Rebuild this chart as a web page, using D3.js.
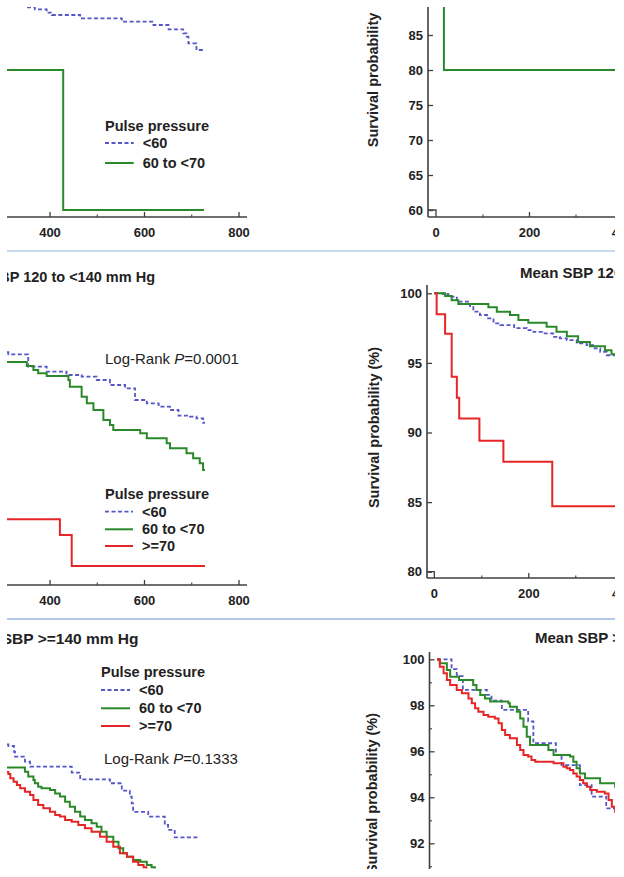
<!DOCTYPE html>
<html><head><meta charset="utf-8">
<script src="https://cdn.jsdelivr.net/npm/d3@7"></script>
<style>body{margin:0;background:#fff}</style>
</head><body><svg id="c" width="624" height="877"></svg>
<script>
// ---------------- DATA ----------------
const groups = ["<60", "60 to <70", ">=70"];
const legendTitle = "Pulse pressure";
const titles = {
  middle: "Mean SBP 120 to <140 mm Hg",
  bottom: "Mean SBP >=140 mm Hg"
};
const pValues = { middle: "0.0001", bottom: "0.1333" };
const yLabelTop = "Survival probability";
const yLabel = "Survival probability (%)";

// left column x ticks (days)
const leftXTicks = [400, 600, 800];
const leftXMinor = [300, 500, 700];
// right column
const rightXTicks = [0, 200, 400];
const rightXMinor = [100, 300];
const trYTicks = [60, 65, 70, 75, 80, 85];
const mrYTicks = [80, 85, 90, 95, 100];
const brYTicks = [92, 94, 96, 98, 100];
const brYMinor = [91, 93, 95, 97, 99];

// top-left panel (time, survival %)
const tlLt60 = [[330,89.3],[348,88.95],[369,88.67],[394,88.19],[405,87.86],[465,87.38],[553,86.9],[620,86.43],[652,85.81],[683,85.24],[690,84.76],[694,83.81],[711,82.86],[727,82.86]];
const tl60to70 = [[280,80],[429,60],[727,60]];
// top-right panel
const tr60to70 = [[0,100],[17,80],[385,80]];

// middle-left panel
const mlLt60 = [[296,96.3],[313,96.15],[355,95.26],[394,94.9],[436,94.66],[468,94.54],[500,94.3],[528,93.94],[560,93.7],[581,92.86],[606,92.62],[631,92.38],[655,92.14],[673,91.73],[697,91.66],[711,91.54],[725,91.22],[729,91.22]];
const ml60to70 = [[296,95.6],[352,95.31],[366,95.02],[376,94.78],[394,94.59],[440,94.3],[443,93.82],[468,93.1],[479,92.62],[493,92.14],[514,91.42],[528,91.06],[535,90.7],[592,90.46],[606,90.1],[648,89.74],[655,89.38],[690,89.02],[704,88.66],[718,88.3],[725,87.82],[729,87.82]];
const mlGe70 = [[296,84.26],[422,83.13],[447,80.9],[729,80.9]];
// middle-right panel
const mrLt60 = [[0,100],[19,99.95],[30,99.76],[48,99.4],[76,99.08],[83,98.68],[97,98.44],[112,98.2],[126,97.84],[140,97.72],[170,97.5],[197,97.36],[211,97.23],[232,97.12],[253,96.87],[267,96.76],[282,96.64],[303,96.4],[324,96.28],[338,96.04],[353,95.79],[367,95.55],[385,95.55]];
const mr60to70 = [[0,100],[23,99.8],[37,99.5],[51,99.23],[115,98.99],[133,98.68],[161,98.44],[179,98.08],[200,97.88],[239,97.6],[260,97.23],[282,96.92],[306,96.51],[331,96.2],[363,95.91],[377,95.63],[385,95.63]];
const mrGe70 = [[0,100],[5,98.5],[23,97.1],[37,94.0],[48,92.5],[53,91.0],[96,89.4],[147,87.9],[251,84.7],[385,84.7]];

// bottom-left panel
const blLt60 = [[296,96.3],[313,96.23],[325,95.98],[327,95.77],[348,95.55],[359,95.33],[447,95.07],[465,94.78],[528,94.61],[553,94.29],[570,94.03],[574,93.74],[577,93.37],[609,93.16],[644,92.8],[651,92.58],[665,92.26],[715,92.26]];
const bl60to70 = [[296,95.3],[348,95.11],[355,94.9],[366,94.75],[369,94.61],[376,94.46],[383,94.39],[401,94.32],[412,94.17],[422,94.03],[433,93.81],[443,93.59],[454,93.37],[465,93.16],[475,93.01],[489,92.87],[500,92.72],[510,92.5],[521,92.29],[535,92.07],[546,91.78],[556,91.57],[564,91.42],[577,91.27],[592,91.2],[606,91.06],[616,90.96],[623,90.9]];
const blGe70 = [[296,95.1],[313,95.01],[317,94.83],[324,94.68],[331,94.53],[338,94.39],[348,94.24],[359,94.1],[366,93.88],[376,93.67],[387,93.52],[401,93.37],[412,93.23],[422,93.16],[433,93.01],[447,92.94],[461,92.8],[475,92.65],[489,92.5],[507,92.29],[521,92.07],[535,91.85],[549,91.57],[564,91.42],[577,91.2],[588,91.06],[599,90.96],[605,90.9]];
// bottom-right panel
const brLt60 = [[0,100],[31,99.57],[42,99.32],[47,99.27],[55,98.67],[106,98.45],[116,98.2],[138,97.8],[194,97.3],[205,96.35],[253,95.84],[265,95.4],[304,94.53],[329,94.03],[360,93.52],[382,93.52]];
const br60to70 = [[0,100],[6,99.83],[21,99.53],[28,99.24],[47,99.1],[77,98.88],[84,98.67],[92,98.45],[102,98.3],[113,98.16],[152,98.09],[155,97.94],[170,97.72],[177,97.43],[184,97.07],[191,96.63],[198,96.27],[237,96.06],[248,95.84],[283,95.77],[290,95.55],[297,95.26],[304,95.04],[315,94.83],[347,94.61],[379,94.46],[398,94.46]];
const brGe70 = [[0,100],[3,99.97],[6,99.68],[14,99.39],[21,99.1],[28,98.88],[42,98.67],[53,98.52],[67,98.3],[74,98.09],[81,97.87],[88,97.72],[99,97.58],[109,97.5],[123,97.43],[131,97.22],[138,96.93],[145,96.71],[155,96.57],[170,96.27],[177,96.06],[184,95.84],[194,95.77],[201,95.62],[209,95.55],[248,95.48],[269,95.33],[276,95.26],[283,95.19],[290,95.04],[297,94.9],[304,94.75],[311,94.61],[319,94.46],[326,94.32],[340,94.24],[357,94.17],[365,93.88],[372,93.59],[379,93.37],[390,93.2],[398,93.1]];

// ---------------- STYLE ----------------
const FONT = "Arial, 'Liberation Sans', sans-serif";
const AXIS = "#3f3f3f";
const styles = [
  { color: "#5656c8", dash: "4,2.5", width: 1.8 },
  { color: "#2a8a2a", dash: null, width: 2 },
  { color: "#e62626", dash: null, width: 2 }
];

const svg = d3.select("#c");
const clip = svg.append("defs").append("clipPath").attr("id", "clip");
clip.append("rect").attr("x", 7).attr("y", 7).attr("width", 608).attr("height", 862);
const root = svg.append("g").attr("clip-path", "url(#clip)");

// separators
[251, 619].forEach((y, i) => {
  root.append("line").attr("x1", 7).attr("x2", 615).attr("y1", y).attr("y2", y)
    .attr("stroke", i === 0 ? "#b6cde8" : "#98b6e6").attr("stroke-width", 1.6);
});

// scales
const xLeft = d3.scaleLinear().domain([400, 800]).range([49.5, 238.5]);
const xTR = d3.scaleLinear().domain([0, 200]).range([436, 529]);
const xMR = d3.scaleLinear().domain([0, 200]).range([434.3, 528.3]);
const xBR = d3.scaleLinear().domain([0, 200]).range([437, 531]);
const yTop = d3.scaleLinear().domain([60, 80]).range([210, 70]);
const yML = d3.scaleLinear().domain([80, 100]).range([578.5, 300.9]);
const yMR = d3.scaleLinear().domain([80, 100]).range([571.7, 293.3]);
const yBL = d3.scaleLinear().domain([92, 100]).range([843.3, 659.3]);
const yBR = d3.scaleLinear().domain([92, 100]).range([843.3, 659.3]);

function drawCurve(data, x, y, si) {
  const st = styles[si];
  const line = d3.line().x(d => x(d[0])).y(d => y(d[1])).curve(d3.curveStepAfter);
  root.append("path").datum(data).attr("d", line)
    .attr("fill", "none").attr("stroke", st.color).attr("stroke-width", st.width)
    .attr("stroke-dasharray", st.dash);
}

function xAxis(x, y0, xa, xb, major, minor) {
  root.append("line").attr("x1", xa).attr("x2", xb).attr("y1", y0).attr("y2", y0)
    .attr("stroke", AXIS).attr("stroke-width", 1.6);
  const g = root.append("g").attr("transform", `translate(0,${y0})`)
    .call(d3.axisBottom(x).tickValues(major).tickSize(-5).tickPadding(10.8).tickFormat(d3.format("d")));
  g.select(".domain").remove();
  g.selectAll("line").attr("stroke", AXIS).attr("stroke-width", 1.3);
  g.selectAll("text").attr("font-family", FONT).attr("font-size", 13).attr("font-weight", "bold").attr("fill", "#222");
  const gm = root.append("g").attr("transform", `translate(0,${y0})`)
    .call(d3.axisBottom(x).tickValues(minor).tickSize(-2.5).tickFormat(""));
  gm.select(".domain").remove();
  gm.selectAll("line").attr("stroke", AXIS).attr("stroke-width", 1.1);
}

function yAxis(y, x0, ya, yb, major, minor) {
  root.append("line").attr("x1", x0).attr("x2", x0).attr("y1", ya).attr("y2", yb)
    .attr("stroke", AXIS).attr("stroke-width", 1.6);
  const g = root.append("g").attr("transform", `translate(${x0},0)`)
    .call(d3.axisLeft(y).tickValues(major).tickSize(-5).tickPadding(5).tickFormat(d3.format("d")));
  g.select(".domain").remove();
  g.selectAll("line").attr("stroke", AXIS).attr("stroke-width", 1.3);
  g.selectAll("text").attr("font-family", FONT).attr("font-size", 13).attr("font-weight", "bold").attr("fill", "#222");
  if (minor) {
    const gm = root.append("g").attr("transform", `translate(${x0},0)`)
      .call(d3.axisLeft(y).tickValues(minor).tickSize(-2.5).tickFormat(""));
    gm.select(".domain").remove();
    gm.selectAll("line").attr("stroke", AXIS).attr("stroke-width", 1.1);
  }
}

function hook(x0, xz, yv, yb) {
  root.append("path").attr("d", `M${x0},${yv}H${xz}V${yb}`)
    .attr("fill", "none").attr("stroke", AXIS).attr("stroke-width", 1.3);
}

function yTitle(text, x, y) {
  root.append("text").attr("transform", `translate(${x},${y}) rotate(-90)`)
    .attr("text-anchor", "middle").attr("dominant-baseline", "central")
    .attr("font-family", FONT).attr("font-size", 14.5).attr("font-weight", "bold").attr("fill", "#222")
    .text(text);
}

function title(text, x, y, anchor, size) {
  root.append("text").attr("x", x).attr("y", y).attr("text-anchor", anchor)
    .attr("font-family", FONT).attr("font-size", size).attr("font-weight", "bold").attr("fill", "#222")
    .text(text);
}

function legend(x, yTitleBase, ys, textX, n) {
  root.append("text").attr("x", x).attr("y", yTitleBase)
    .attr("font-family", FONT).attr("font-size", 14.5).attr("font-weight", "bold").attr("fill", "#222")
    .text(legendTitle);
  for (let i = 0; i < n; i++) {
    const st = styles[i];
    root.append("line").attr("x1", x).attr("x2", textX - 9).attr("y1", ys[i]).attr("y2", ys[i])
      .attr("stroke", st.color).attr("stroke-width", st.width).attr("stroke-dasharray", st.dash);
    root.append("text").attr("x", textX).attr("y", ys[i] + 5)
      .attr("font-family", FONT).attr("font-size", 14.5).attr("font-weight", "bold").attr("fill", "#222")
      .text(groups[i]);
  }
}

function logRank(x, y, p) {
  const t = root.append("text").attr("x", x).attr("y", y)
    .attr("font-family", FONT).attr("font-size", 15).attr("fill", "#222");
  t.append("tspan").text("Log-Rank ");
  t.append("tspan").attr("font-style", "italic").text("P");
  t.append("tspan").text("=" + p);
}

// ----- top-left -----
xAxis(xLeft, 217, 7, 247, leftXTicks, leftXMinor);
drawCurve(tlLt60, xLeft, yTop, 0);
drawCurve(tl60to70, xLeft, yTop, 1);
legend(105, 131, [143, 163], 142.7, 2);

// ----- top-right -----
yAxis(yTop, 428, 0, 217, trYTicks, null);
xAxis(xTR, 217, 428, 615, rightXTicks.filter(d => d > 0), rightXMinor);
root.append("text").attr("x", xTR(0)).attr("y", 237).attr("text-anchor", "middle")
  .attr("font-family", FONT).attr("font-size", 13).attr("font-weight", "bold").attr("fill", "#222").text("0");
hook(428, xTR(0), yTop(60), 217);
drawCurve(tr60to70, xTR, yTop, 1);
yTitle(yLabelTop, 373, 80);

// ----- middle-left -----
title(titles.middle, 155, 282, "end", 14.5);
xAxis(xLeft, 585, 7, 247, leftXTicks, leftXMinor);
drawCurve(mlLt60, xLeft, yML, 0);
drawCurve(ml60to70, xLeft, yML, 1);
drawCurve(mlGe70, xLeft, yML, 2);
logRank(105, 363.5, pValues.middle);
legend(105, 498.5, [511.7, 529.3, 546], 142, 3);

// ----- middle-right -----
title(titles.middle, 520, 278, "start", 15);
yAxis(yMR, 427, 285, 578, mrYTicks, null);
xAxis(xMR, 578, 427, 615, rightXTicks.filter(d => d > 0), rightXMinor);
root.append("text").attr("x", xMR(0)).attr("y", 598).attr("text-anchor", "middle")
  .attr("font-family", FONT).attr("font-size", 13).attr("font-weight", "bold").attr("fill", "#222").text("0");
hook(427, xMR(0), yMR(80), 578);
drawCurve(mrLt60, xMR, yMR, 0);
drawCurve(mr60to70, xMR, yMR, 1);
drawCurve(mrGe70, xMR, yMR, 2);
yTitle(yLabel, 374, 427.5);

// ----- bottom-left -----
title(titles.bottom, 138.5, 644, "end", 15.5);
legend(101, 677, [690, 708.3, 726], 139, 3);
logRank(104, 764, pValues.bottom);
drawCurve(blLt60, xLeft, yBL, 0);
drawCurve(bl60to70, xLeft, yBL, 1);
drawCurve(blGe70, xLeft, yBL, 2);

// ----- bottom-right -----
title(titles.bottom, 535, 643, "start", 15);
yAxis(yBR, 429.5, 652, 877, brYTicks, brYMinor);
drawCurve(brLt60, xBR, yBR, 0);
drawCurve(br60to70, xBR, yBR, 1);
drawCurve(brGe70, xBR, yBR, 2);
yTitle(yLabel, 372, 793.5);
</script>
</body></html>
